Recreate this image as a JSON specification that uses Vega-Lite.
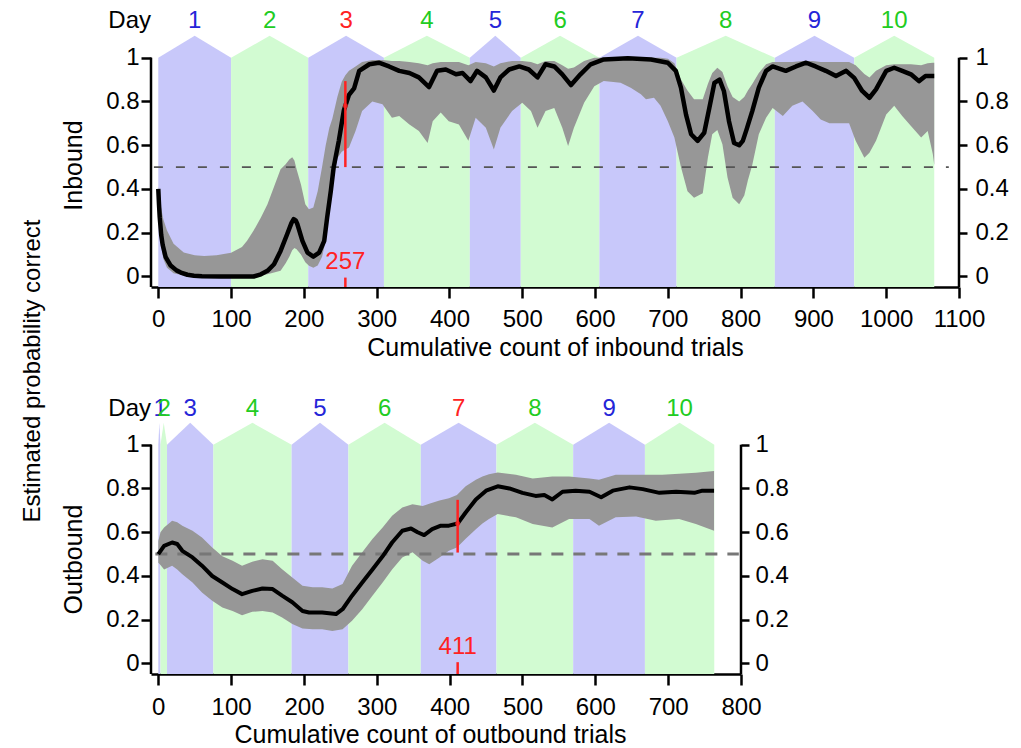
{
"$schema": "https://vega.github.io/schema/vega-lite/v6.json",
"padding": {"left": 20, "top": 3, "right": 5, "bottom": 5},
"title": {"text": "Estimated probability correct", "orient": "left", "anchor": "middle", "fontSize": 24, "font": "Liberation Sans", "fontWeight": "normal", "color": "black", "dx": 4, "offset": 17},
"config": {"view": {"stroke": null}, "font": "Liberation Sans", "axis": {"grid": false, "labelFont": "Liberation Sans", "titleFont": "Liberation Sans", "labelColor": "black", "titleColor": "black", "tickColor": "black", "labelFlush": false, "labelOverlap": false}},
"bounds": "flush",
"spacing": 103,
"datasets": {
"bands": [
{"p":"in","d":1,"par":"b","x":0,"y":1},{"p":"in","d":1,"par":"b","x":50,"y":1.1},{"p":"in","d":1,"par":"b","x":100,"y":1},
{"p":"in","d":2,"par":"g","x":100,"y":1},{"p":"in","d":2,"par":"g","x":153,"y":1.1},{"p":"in","d":2,"par":"g","x":206,"y":1},
{"p":"in","d":3,"par":"b","x":206,"y":1},{"p":"in","d":3,"par":"b","x":258,"y":1.1},{"p":"in","d":3,"par":"b","x":310,"y":1},
{"p":"in","d":4,"par":"g","x":310,"y":1},{"p":"in","d":4,"par":"g","x":369,"y":1.1},{"p":"in","d":4,"par":"g","x":428,"y":1},
{"p":"in","d":5,"par":"b","x":428,"y":1},{"p":"in","d":5,"par":"b","x":463,"y":1.1},{"p":"in","d":5,"par":"b","x":498,"y":1},
{"p":"in","d":6,"par":"g","x":498,"y":1},{"p":"in","d":6,"par":"g","x":552,"y":1.1},{"p":"in","d":6,"par":"g","x":606,"y":1},
{"p":"in","d":7,"par":"b","x":606,"y":1},{"p":"in","d":7,"par":"b","x":659,"y":1.1},{"p":"in","d":7,"par":"b","x":712,"y":1},
{"p":"in","d":8,"par":"g","x":712,"y":1},{"p":"in","d":8,"par":"g","x":779.5,"y":1.1},{"p":"in","d":8,"par":"g","x":847,"y":1},
{"p":"in","d":9,"par":"b","x":847,"y":1},{"p":"in","d":9,"par":"b","x":901.5,"y":1.1},{"p":"in","d":9,"par":"b","x":956,"y":1},
{"p":"in","d":10,"par":"g","x":956,"y":1},{"p":"in","d":10,"par":"g","x":1011,"y":1.1},{"p":"in","d":10,"par":"g","x":1066,"y":1},
{"p":"out","d":1,"par":"b","x":0,"y":1},{"p":"out","d":1,"par":"b","x":1.5,"y":1.1},{"p":"out","d":1,"par":"b","x":3,"y":1},
{"p":"out","d":2,"par":"g","x":3,"y":1},{"p":"out","d":2,"par":"g","x":7.5,"y":1.1},{"p":"out","d":2,"par":"g","x":12,"y":1},
{"p":"out","d":3,"par":"b","x":12,"y":1},{"p":"out","d":3,"par":"b","x":43.8,"y":1.1},{"p":"out","d":3,"par":"b","x":75.6,"y":1},
{"p":"out","d":4,"par":"g","x":75.6,"y":1},{"p":"out","d":4,"par":"g","x":129.3,"y":1.1},{"p":"out","d":4,"par":"g","x":183,"y":1},
{"p":"out","d":5,"par":"b","x":183,"y":1},{"p":"out","d":5,"par":"b","x":222,"y":1.1},{"p":"out","d":5,"par":"b","x":261,"y":1},
{"p":"out","d":6,"par":"g","x":261,"y":1},{"p":"out","d":6,"par":"g","x":310.7,"y":1.1},{"p":"out","d":6,"par":"g","x":360.4,"y":1},
{"p":"out","d":7,"par":"b","x":360.4,"y":1},{"p":"out","d":7,"par":"b","x":412.3,"y":1.1},{"p":"out","d":7,"par":"b","x":464.3,"y":1},
{"p":"out","d":8,"par":"g","x":464.3,"y":1},{"p":"out","d":8,"par":"g","x":517,"y":1.1},{"p":"out","d":8,"par":"g","x":569.6,"y":1},
{"p":"out","d":9,"par":"b","x":569.6,"y":1},{"p":"out","d":9,"par":"b","x":618.9,"y":1.1},{"p":"out","d":9,"par":"b","x":668.1,"y":1},
{"p":"out","d":10,"par":"g","x":668.1,"y":1},{"p":"out","d":10,"par":"g","x":715.7,"y":1.1},{"p":"out","d":10,"par":"g","x":763.3,"y":1}
],
"days": [
{"p":"in","label":"1","x":50,"k":"odd"},{"p":"in","label":"2","x":153,"k":"even"},{"p":"in","label":"3","x":258,"k":"crit"},{"p":"in","label":"4","x":369,"k":"even"},{"p":"in","label":"5","x":463,"k":"odd"},{"p":"in","label":"6","x":552,"k":"even"},{"p":"in","label":"7","x":659,"k":"odd"},{"p":"in","label":"8","x":779.5,"k":"even"},{"p":"in","label":"9","x":901.5,"k":"odd"},{"p":"in","label":"10","x":1011,"k":"even"},
{"p":"out","label":"1","x":2.5,"k":"odd"},{"p":"out","label":"2","x":8,"k":"even"},{"p":"out","label":"3","x":43.8,"k":"odd"},{"p":"out","label":"4","x":129.3,"k":"even"},{"p":"out","label":"5","x":222,"k":"odd"},{"p":"out","label":"6","x":310.7,"k":"even"},{"p":"out","label":"7","x":412.3,"k":"crit"},{"p":"out","label":"8","x":517,"k":"even"},{"p":"out","label":"9","x":618.9,"k":"odd"},{"p":"out","label":"10","x":715.7,"k":"even"}
],
"inMean": [
{"x":0,"m":0.40},{"x":1,"m":0.33},{"x":2,"m":0.27},{"x":4,"m":0.19},{"x":6,"m":0.145},{"x":10,"m":0.09},{"x":17,"m":0.05},{"x":25,"m":0.028},{"x":31,"m":0.018},{"x":40,"m":0.008},{"x":49,"m":0.003},{"x":60,"m":0.001},{"x":86,"m":0},{"x":131,"m":0},{"x":141,"m":0.01},{"x":150,"m":0.026},{"x":159,"m":0.056},{"x":168,"m":0.117},{"x":177,"m":0.193},{"x":183,"m":0.245},{"x":186,"m":0.262},{"x":189,"m":0.255},{"x":191,"m":0.24},{"x":198,"m":0.163},{"x":205,"m":0.109},{"x":213,"m":0.091},{"x":221,"m":0.109},{"x":228,"m":0.163},{"x":232,"m":0.27},{"x":237,"m":0.39},{"x":241,"m":0.50},{"x":248,"m":0.62},{"x":255,"m":0.76},{"x":257,"m":0.78},{"x":262,"m":0.83},{"x":269,"m":0.86},{"x":276,"m":0.94},{"x":290,"m":0.97},{"x":303,"m":0.977},{"x":317,"m":0.96},{"x":331,"m":0.94},{"x":345,"m":0.93},{"x":358,"m":0.91},{"x":372,"m":0.866},{"x":383,"m":0.94},{"x":395,"m":0.946},{"x":409,"m":0.924},{"x":418,"m":0.93},{"x":429,"m":0.893},{"x":438,"m":0.94},{"x":450,"m":0.91},{"x":461,"m":0.85},{"x":470,"m":0.91},{"x":482,"m":0.946},{"x":496,"m":0.96},{"x":509,"m":0.946},{"x":521,"m":0.91},{"x":532,"m":0.97},{"x":544,"m":0.96},{"x":555,"m":0.924},{"x":567,"m":0.875},{"x":580,"m":0.924},{"x":594,"m":0.97},{"x":612,"m":0.992},{"x":645,"m":0.997},{"x":677,"m":0.992},{"x":700,"m":0.977},{"x":711,"m":0.94},{"x":718,"m":0.863},{"x":725,"m":0.74},{"x":732,"m":0.65},{"x":741,"m":0.62},{"x":750,"m":0.657},{"x":757,"m":0.77},{"x":764,"m":0.885},{"x":771,"m":0.90},{"x":777,"m":0.848},{"x":784,"m":0.71},{"x":791,"m":0.61},{"x":798,"m":0.60},{"x":803,"m":0.62},{"x":808,"m":0.67},{"x":816,"m":0.756},{"x":825,"m":0.863},{"x":835,"m":0.94},{"x":844,"m":0.96},{"x":862,"m":0.94},{"x":876,"m":0.96},{"x":890,"m":0.977},{"x":903,"m":0.96},{"x":917,"m":0.94},{"x":931,"m":0.916},{"x":945,"m":0.94},{"x":956,"m":0.908},{"x":967,"m":0.848},{"x":977,"m":0.817},{"x":986,"m":0.855},{"x":1000,"m":0.94},{"x":1011,"m":0.954},{"x":1022,"m":0.94},{"x":1034,"m":0.924},{"x":1045,"m":0.893},{"x":1054,"m":0.916},{"x":1066,"m":0.916}
],
"inBand": [
{"x":0,"lo":0.37,"hi":0.41},{"x":3,"lo":0.16,"hi":0.33},{"x":7,"lo":0.08,"hi":0.26},{"x":12,"lo":0.04,"hi":0.21},{"x":21,"lo":0.015,"hi":0.15},{"x":35,"lo":0.004,"hi":0.11},{"x":50,"lo":0.001,"hi":0.097},{"x":63,"lo":0,"hi":0.094},{"x":80,"lo":0,"hi":0.097},{"x":100,"lo":0,"hi":0.109},{"x":115,"lo":0,"hi":0.135},{"x":122,"lo":0,"hi":0.163},{"x":131,"lo":0,"hi":0.21},{"x":141,"lo":0.004,"hi":0.27},{"x":150,"lo":0.01,"hi":0.33},{"x":159,"lo":0.018,"hi":0.41},{"x":168,"lo":0.026,"hi":0.49},{"x":175,"lo":0.06,"hi":0.513},{"x":180,"lo":0.09,"hi":0.535},{"x":184,"lo":0.12,"hi":0.545},{"x":187,"lo":0.13,"hi":0.53},{"x":190,"lo":0.125,"hi":0.49},{"x":196,"lo":0.10,"hi":0.42},{"x":202,"lo":0.065,"hi":0.33},{"x":207,"lo":0.049,"hi":0.307},{"x":213,"lo":0.04,"hi":0.315},{"x":219,"lo":0.05,"hi":0.39},{"x":225,"lo":0.09,"hi":0.50},{"x":230,"lo":0.163,"hi":0.60},{"x":235,"lo":0.30,"hi":0.68},{"x":239,"lo":0.42,"hi":0.72},{"x":246,"lo":0.54,"hi":0.82},{"x":252,"lo":0.57,"hi":0.89},{"x":257,"lo":0.58,"hi":0.92},{"x":262,"lo":0.59,"hi":0.94},{"x":271,"lo":0.665,"hi":0.96},{"x":280,"lo":0.756,"hi":0.98},{"x":294,"lo":0.80,"hi":0.99},{"x":308,"lo":0.787,"hi":0.99},{"x":321,"lo":0.726,"hi":0.985},{"x":331,"lo":0.733,"hi":0.985},{"x":345,"lo":0.695,"hi":0.98},{"x":358,"lo":0.665,"hi":0.975},{"x":370,"lo":0.61,"hi":0.965},{"x":377,"lo":0.71,"hi":0.975},{"x":388,"lo":0.75,"hi":0.98},{"x":399,"lo":0.71,"hi":0.98},{"x":413,"lo":0.695,"hi":0.98},{"x":426,"lo":0.62,"hi":0.965},{"x":436,"lo":0.726,"hi":0.98},{"x":450,"lo":0.68,"hi":0.975},{"x":461,"lo":0.58,"hi":0.96},{"x":470,"lo":0.68,"hi":0.975},{"x":486,"lo":0.756,"hi":0.985},{"x":500,"lo":0.794,"hi":0.985},{"x":512,"lo":0.756,"hi":0.98},{"x":521,"lo":0.68,"hi":0.97},{"x":532,"lo":0.756,"hi":0.985},{"x":544,"lo":0.77,"hi":0.985},{"x":555,"lo":0.68,"hi":0.965},{"x":563,"lo":0.596,"hi":0.95},{"x":571,"lo":0.68,"hi":0.955},{"x":585,"lo":0.794,"hi":0.985},{"x":599,"lo":0.87,"hi":1.0},{"x":612,"lo":0.893,"hi":1.0},{"x":635,"lo":0.886,"hi":1.0},{"x":649,"lo":0.863,"hi":1.0},{"x":663,"lo":0.833,"hi":1.0},{"x":670,"lo":0.81,"hi":1.0},{"x":681,"lo":0.817,"hi":1.0},{"x":690,"lo":0.78,"hi":1.0},{"x":700,"lo":0.71,"hi":0.995},{"x":709,"lo":0.635,"hi":0.975},{"x":718,"lo":0.50,"hi":0.90},{"x":727,"lo":0.39,"hi":0.85},{"x":736,"lo":0.36,"hi":0.81},{"x":748,"lo":0.38,"hi":0.81},{"x":755,"lo":0.543,"hi":0.88},{"x":761,"lo":0.65,"hi":0.93},{"x":768,"lo":0.67,"hi":0.954},{"x":775,"lo":0.604,"hi":0.935},{"x":782,"lo":0.452,"hi":0.87},{"x":789,"lo":0.36,"hi":0.82},{"x":798,"lo":0.33,"hi":0.80},{"x":805,"lo":0.37,"hi":0.82},{"x":810,"lo":0.44,"hi":0.85},{"x":816,"lo":0.51,"hi":0.88},{"x":825,"lo":0.65,"hi":0.93},{"x":835,"lo":0.726,"hi":0.97},{"x":844,"lo":0.77,"hi":0.98},{"x":858,"lo":0.733,"hi":0.98},{"x":871,"lo":0.78,"hi":0.98},{"x":885,"lo":0.80,"hi":0.985},{"x":899,"lo":0.756,"hi":0.985},{"x":910,"lo":0.718,"hi":0.98},{"x":922,"lo":0.70,"hi":0.98},{"x":935,"lo":0.70,"hi":0.98},{"x":949,"lo":0.70,"hi":0.98},{"x":958,"lo":0.62,"hi":0.965},{"x":970,"lo":0.543,"hi":0.925},{"x":977,"lo":0.566,"hi":0.91},{"x":986,"lo":0.62,"hi":0.94},{"x":1000,"lo":0.74,"hi":0.965},{"x":1011,"lo":0.78,"hi":0.97},{"x":1022,"lo":0.733,"hi":0.97},{"x":1034,"lo":0.688,"hi":0.97},{"x":1048,"lo":0.635,"hi":0.965},{"x":1057,"lo":0.665,"hi":0.975},{"x":1064,"lo":0.56,"hi":0.977},{"x":1066,"lo":0.51,"hi":0.977}
],
"outMean": [
{"x":0,"m":0.50},{"x":8,"m":0.538},{"x":19,"m":0.553},{"x":26,"m":0.546},{"x":33,"m":0.515},{"x":47,"m":0.485},{"x":60,"m":0.447},{"x":74,"m":0.40},{"x":88,"m":0.37},{"x":102,"m":0.34},{"x":115,"m":0.317},{"x":129,"m":0.332},{"x":143,"m":0.343},{"x":157,"m":0.34},{"x":170,"m":0.31},{"x":184,"m":0.28},{"x":198,"m":0.24},{"x":207,"m":0.233},{"x":225,"m":0.233},{"x":244,"m":0.226},{"x":253,"m":0.248},{"x":266,"m":0.31},{"x":280,"m":0.37},{"x":294,"m":0.43},{"x":308,"m":0.49},{"x":321,"m":0.553},{"x":335,"m":0.607},{"x":347,"m":0.617},{"x":356,"m":0.60},{"x":365,"m":0.587},{"x":376,"m":0.614},{"x":388,"m":0.63},{"x":399,"m":0.63},{"x":411,"m":0.64},{"x":422,"m":0.69},{"x":436,"m":0.75},{"x":450,"m":0.79},{"x":466,"m":0.81},{"x":482,"m":0.80},{"x":500,"m":0.78},{"x":518,"m":0.766},{"x":530,"m":0.77},{"x":541,"m":0.75},{"x":555,"m":0.785},{"x":573,"m":0.79},{"x":592,"m":0.785},{"x":608,"m":0.76},{"x":624,"m":0.79},{"x":647,"m":0.805},{"x":665,"m":0.797},{"x":688,"m":0.78},{"x":711,"m":0.785},{"x":736,"m":0.78},{"x":747,"m":0.79},{"x":763,"m":0.79}
],
"outBand": [
{"x":0,"lo":0.46,"hi":0.56},{"x":3,"lo":0.45,"hi":0.60},{"x":8,"lo":0.43,"hi":0.622},{"x":19,"lo":0.447,"hi":0.652},{"x":26,"lo":0.43,"hi":0.645},{"x":33,"lo":0.408,"hi":0.63},{"x":47,"lo":0.37,"hi":0.607},{"x":60,"lo":0.325,"hi":0.576},{"x":74,"lo":0.287,"hi":0.53},{"x":88,"lo":0.256,"hi":0.49},{"x":102,"lo":0.24,"hi":0.47},{"x":115,"lo":0.22,"hi":0.447},{"x":129,"lo":0.236,"hi":0.465},{"x":143,"lo":0.24,"hi":0.477},{"x":157,"lo":0.233,"hi":0.47},{"x":170,"lo":0.21,"hi":0.431},{"x":184,"lo":0.18,"hi":0.393},{"x":198,"lo":0.16,"hi":0.355},{"x":212,"lo":0.157,"hi":0.348},{"x":225,"lo":0.157,"hi":0.348},{"x":239,"lo":0.149,"hi":0.343},{"x":253,"lo":0.157,"hi":0.363},{"x":266,"lo":0.195,"hi":0.447},{"x":280,"lo":0.248,"hi":0.508},{"x":294,"lo":0.31,"hi":0.569},{"x":308,"lo":0.37,"hi":0.622},{"x":321,"lo":0.43,"hi":0.675},{"x":335,"lo":0.485,"hi":0.713},{"x":349,"lo":0.508,"hi":0.728},{"x":363,"lo":0.47,"hi":0.72},{"x":372,"lo":0.454,"hi":0.73},{"x":386,"lo":0.485,"hi":0.745},{"x":399,"lo":0.515,"hi":0.755},{"x":410,"lo":0.53,"hi":0.77},{"x":422,"lo":0.57,"hi":0.81},{"x":436,"lo":0.614,"hi":0.84},{"x":445,"lo":0.64,"hi":0.855},{"x":454,"lo":0.66,"hi":0.865},{"x":466,"lo":0.683,"hi":0.873},{"x":491,"lo":0.668,"hi":0.863},{"x":514,"lo":0.637,"hi":0.845},{"x":541,"lo":0.622,"hi":0.855},{"x":564,"lo":0.66,"hi":0.855},{"x":592,"lo":0.66,"hi":0.845},{"x":605,"lo":0.63,"hi":0.84},{"x":628,"lo":0.668,"hi":0.863},{"x":656,"lo":0.672,"hi":0.863},{"x":683,"lo":0.652,"hi":0.863},{"x":692,"lo":0.655,"hi":0.863},{"x":715,"lo":0.66,"hi":0.867},{"x":738,"lo":0.637,"hi":0.872},{"x":763,"lo":0.607,"hi":0.88}
],
"marks": [
{"p":"in","x":257,"lo":0.5,"top":0.893,"pt":0.78,"label":"257"},
{"p":"out","x":411,"lo":0.507,"top":0.748,"pt":0.64,"label":"411"}
]
},
"vconcat": [
{
"width": 808, "height": 284,
"resolve": {"axis": {"y": "independent"}},
"layer": [
{"data": {"name": "bands"}, "transform": [{"filter": "datum.p == 'in'"}],
 "mark": {"type": "area"},
 "encoding": {
  "x": {"field": "x", "type": "quantitative", "scale": {"domain": [-10, 1100], "nice": false, "zero": false},
   "axis": {"values": [0,100,200,300,400,500,600,700,800,900,1000,1100], "format": "d", "domain": true, "domainWidth": 2.5, "domainColor": "black", "tickSize": 11, "tickWidth": 2.5, "labelFontSize": 24, "labelPadding": 9, "title": "Cumulative count of inbound trials", "titleFontSize": 25, "titleFontWeight": "normal", "titlePadding": 4}},
  "y": {"field": "y", "type": "quantitative", "stack": null, "scale": {"domain": [-0.048, 1.25], "nice": false, "zero": false},
   "axis": {"values": [0,0.2,0.4,0.6,0.8,1], "format": "~g", "domain": false, "tickSize": 10, "tickWidth": 2.5, "labelFontSize": 24, "labelPadding": 2, "title": "Inbound", "titleFontSize": 25, "titleFontWeight": "normal", "titlePadding": 19, "titleY": 162}},
  "y2": {"datum": -0.048},
  "color": {"field": "par", "type": "nominal", "scale": {"domain": ["b","g"], "range": ["#c8c8fa","#d2fbd2"]}, "legend": null},
  "detail": {"field": "d", "type": "nominal"}
 }},
{"data": {"name": "inBand"},
 "mark": {"type": "area", "color": "#979797"},
 "encoding": {"x": {"field": "x", "type": "quantitative"}, "y": {"field": "lo", "type": "quantitative", "stack": null, "axis": null}, "y2": {"field": "hi"}}},
{"data": {"values": [{"v": 0.5, "a": -6, "b": 1086}]},
 "mark": {"type": "rule", "color": "#555555", "strokeWidth": 1.6, "strokeDash": [9, 13]},
 "encoding": {"x": {"field": "a", "type": "quantitative"}, "x2": {"field": "b"}, "y": {"field": "v", "type": "quantitative",
  "axis": {"orient": "right", "values": [0,0.2,0.4,0.6,0.8,1], "format": "~g", "domain": false, "tickSize": 8, "tickWidth": 2.5, "labelFontSize": 24, "labelPadding": 8, "title": null}}}},
{"data": {"name": "inMean"},
 "mark": {"type": "line", "color": "black", "strokeWidth": 4.5, "strokeJoin": "round"},
 "encoding": {"x": {"field": "x", "type": "quantitative"}, "y": {"field": "m", "type": "quantitative", "axis": null}}},
{"data": {"values": [{"a": -10, "lo": -0.048, "hi": 1}, {"a": 1100, "lo": -0.048, "hi": 1}]},
 "mark": {"type": "rule", "color": "black", "strokeWidth": 2.5},
 "encoding": {"x": {"field": "a", "type": "quantitative"}, "y": {"field": "lo", "type": "quantitative", "axis": null}, "y2": {"field": "hi"}}},
{"data": {"name": "marks"}, "transform": [{"filter": "datum.p == 'in'"}],
 "mark": {"type": "rule", "color": "#ff2222", "strokeWidth": 2.5},
 "encoding": {"x": {"field": "x", "type": "quantitative"}, "y": {"field": "lo", "type": "quantitative", "axis": null}, "y2": {"field": "top"}}},
{"data": {"values": [{"x": 257, "lo": -0.048, "hi": -0.005}]},
 "mark": {"type": "rule", "color": "#ff2222", "strokeWidth": 2.5},
 "encoding": {"x": {"field": "x", "type": "quantitative"}, "y": {"field": "lo", "type": "quantitative", "axis": null}, "y2": {"field": "hi"}}},
{"data": {"name": "marks"}, "transform": [{"filter": "datum.p == 'in'"}],
 "mark": {"type": "point", "color": "#ff2222", "filled": true, "size": 25},
 "encoding": {"x": {"field": "x", "type": "quantitative"}, "y": {"field": "pt", "type": "quantitative", "axis": null}}},
{"data": {"name": "marks"}, "transform": [{"filter": "datum.p == 'in'"}, {"calculate": "0.065", "as": "ty"}],
 "mark": {"type": "text", "color": "#ff2222", "fontSize": 24, "baseline": "middle", "align": "center"},
 "encoding": {"x": {"field": "x", "type": "quantitative"}, "y": {"field": "ty", "type": "quantitative", "axis": null}, "text": {"field": "label", "type": "nominal"}}},
{"data": {"name": "days"}, "transform": [{"filter": "datum.p == 'in'"}, {"calculate": "1.17", "as": "ty"}],
 "mark": {"type": "text", "fontSize": 24, "baseline": "middle", "align": "center"},
 "encoding": {"x": {"field": "x", "type": "quantitative"}, "y": {"field": "ty", "type": "quantitative", "axis": null}, "text": {"field": "label", "type": "nominal"},
  "fill": {"field": "k", "type": "nominal", "scale": {"domain": ["odd","even","crit"], "range": ["#2525d8","#22cc22","#ff2222"]}, "legend": null}}},
{"data": {"values": [{"t": "Day", "x": -10, "ty": 1.17}]},
 "mark": {"type": "text", "fontSize": 24, "baseline": "middle", "align": "right", "color": "black"},
 "encoding": {"x": {"field": "x", "type": "quantitative"}, "y": {"field": "ty", "type": "quantitative", "axis": null}, "text": {"field": "t", "type": "nominal"}}}
]
},
{
"width": 590, "height": 284,
"resolve": {"axis": {"y": "independent"}},
"layer": [
{"data": {"name": "bands"}, "transform": [{"filter": "datum.p == 'out'"}],
 "mark": {"type": "area"},
 "encoding": {
  "x": {"field": "x", "type": "quantitative", "scale": {"domain": [-10, 800], "nice": false, "zero": false},
   "axis": {"values": [0,100,200,300,400,500,600,700,800], "format": "d", "domain": true, "domainWidth": 2.5, "domainColor": "black", "tickSize": 11, "tickWidth": 2.5, "labelFontSize": 24, "labelPadding": 10, "title": "Cumulative count of outbound trials", "titleFontSize": 25, "titleFontWeight": "normal", "titlePadding": 3, "titleX": 279}},
  "y": {"field": "y", "type": "quantitative", "stack": null, "scale": {"domain": [-0.048, 1.25], "nice": false, "zero": false},
   "axis": {"values": [0,0.2,0.4,0.6,0.8,1], "format": "~g", "domain": false, "tickSize": 10, "tickWidth": 2.5, "labelFontSize": 24, "labelPadding": 2, "title": "Outbound", "titleFontSize": 25, "titleFontWeight": "normal", "titlePadding": 19, "titleY": 169}},
  "y2": {"datum": -0.048},
  "color": {"field": "par", "type": "nominal", "scale": {"domain": ["b","g"], "range": ["#c8c8fa","#d2fbd2"]}, "legend": null},
  "detail": {"field": "d", "type": "nominal"}
 }},
{"data": {"name": "outBand"},
 "mark": {"type": "area", "color": "#979797"},
 "encoding": {"x": {"field": "x", "type": "quantitative"}, "y": {"field": "lo", "type": "quantitative", "stack": null, "axis": null}, "y2": {"field": "hi"}}},
{"data": {"values": [{"v": 0.5, "a": -4, "b": 797}]},
 "mark": {"type": "rule", "color": "#777777", "strokeWidth": 3, "strokeDash": [12, 10]},
 "encoding": {"x": {"field": "a", "type": "quantitative"}, "x2": {"field": "b"}, "y": {"field": "v", "type": "quantitative",
  "axis": {"orient": "right", "values": [0,0.2,0.4,0.6,0.8,1], "format": "~g", "domain": false, "tickSize": 8, "tickWidth": 2.5, "labelFontSize": 24, "labelPadding": 6, "title": null}}}},
{"data": {"name": "outMean"},
 "mark": {"type": "line", "color": "black", "strokeWidth": 4, "strokeJoin": "round"},
 "encoding": {"x": {"field": "x", "type": "quantitative"}, "y": {"field": "m", "type": "quantitative", "axis": null}}},
{"data": {"values": [{"a": -10, "lo": -0.048, "hi": 1}, {"a": 800, "lo": -0.048, "hi": 1}]},
 "mark": {"type": "rule", "color": "black", "strokeWidth": 2.5},
 "encoding": {"x": {"field": "a", "type": "quantitative"}, "y": {"field": "lo", "type": "quantitative", "axis": null}, "y2": {"field": "hi"}}},
{"data": {"name": "marks"}, "transform": [{"filter": "datum.p == 'out'"}],
 "mark": {"type": "rule", "color": "#ff2222", "strokeWidth": 2.5},
 "encoding": {"x": {"field": "x", "type": "quantitative"}, "y": {"field": "lo", "type": "quantitative", "axis": null}, "y2": {"field": "top"}}},
{"data": {"values": [{"x": 411, "lo": -0.048, "hi": 0.006}]},
 "mark": {"type": "rule", "color": "#ff2222", "strokeWidth": 2.5},
 "encoding": {"x": {"field": "x", "type": "quantitative"}, "y": {"field": "lo", "type": "quantitative", "axis": null}, "y2": {"field": "hi"}}},
{"data": {"name": "marks"}, "transform": [{"filter": "datum.p == 'out'"}],
 "mark": {"type": "point", "color": "#ff2222", "filled": true, "size": 25},
 "encoding": {"x": {"field": "x", "type": "quantitative"}, "y": {"field": "pt", "type": "quantitative", "axis": null}}},
{"data": {"name": "marks"}, "transform": [{"filter": "datum.p == 'out'"}, {"calculate": "0.075", "as": "ty"}],
 "mark": {"type": "text", "color": "#ff2222", "fontSize": 24, "baseline": "middle", "align": "center"},
 "encoding": {"x": {"field": "x", "type": "quantitative"}, "y": {"field": "ty", "type": "quantitative", "axis": null}, "text": {"field": "label", "type": "nominal"}}},
{"data": {"name": "days"}, "transform": [{"filter": "datum.p == 'out'"}, {"calculate": "1.165", "as": "ty"}],
 "mark": {"type": "text", "fontSize": 24, "baseline": "middle", "align": "center"},
 "encoding": {"x": {"field": "x", "type": "quantitative"}, "y": {"field": "ty", "type": "quantitative", "axis": null}, "text": {"field": "label", "type": "nominal"},
  "fill": {"field": "k", "type": "nominal", "scale": {"domain": ["odd","even","crit"], "range": ["#2525d8","#22cc22","#ff2222"]}, "legend": null}}},
{"data": {"values": [{"t": "Day", "x": -10, "ty": 1.165}]},
 "mark": {"type": "text", "fontSize": 24, "baseline": "middle", "align": "right", "color": "black"},
 "encoding": {"x": {"field": "x", "type": "quantitative"}, "y": {"field": "ty", "type": "quantitative", "axis": null}, "text": {"field": "t", "type": "nominal"}}}
]
}
]
}
